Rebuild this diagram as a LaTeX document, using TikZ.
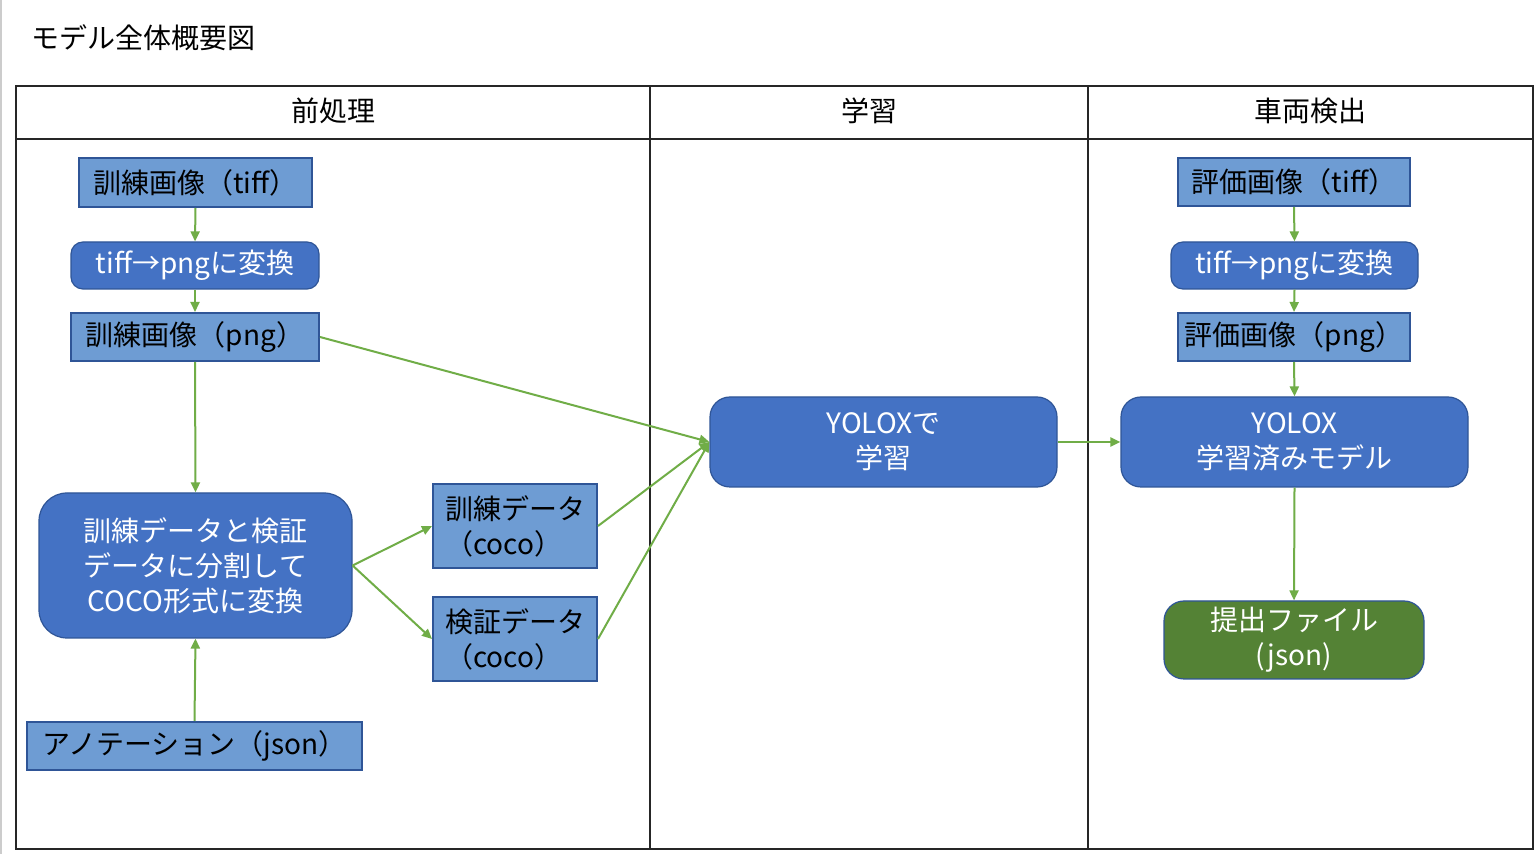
\documentclass[tikz,border=0pt]{standalone}
\usepackage{fontspec}
\setmainfont{Noto Sans CJK JP}
\usetikzlibrary{arrows.meta}
\definecolor{lightfill}{HTML}{6E9CD3}
\definecolor{darkfill}{HTML}{4472C4}
\definecolor{boxborder}{HTML}{2F5597}
\definecolor{greenfill}{HTML}{548235}
\definecolor{arrowgreen}{HTML}{70AD47}
\definecolor{tableline}{HTML}{262626}
\tikzset{
  lbox/.style={draw=boxborder, line width=1pt, fill=lightfill, inner sep=0pt, font=\fontsize{14}{17.5}\selectfont, text=black},
  dbox/.style={draw=boxborder, line width=0.6pt, fill=darkfill, rounded corners=6pt, inner sep=0pt, font=\fontsize{14}{17.5}\selectfont, text=white, align=center},
  gbox/.style={dbox, fill=greenfill},
  conn/.style={draw=arrowgreen, line width=1pt, -{Triangle[length=5pt, width=4.5pt]}},
  hdr/.style={font=\fontsize{14}{17}\selectfont, text=black},
}
\begin{document}
\begin{tikzpicture}[x=0.5pt, y=-0.5pt]
\useasboundingbox (0,0) rectangle (1536,854);
\fill[white] (0,0) rectangle (1536,854);
\draw[black!20, line width=1pt] (1,0) -- (1,854);
% title
\node[anchor=west, hdr, inner sep=0pt] (title) at (31,38) {モデル全体概要図};
% table
\draw[tableline, line width=1pt] (16,86) rectangle (1533,849);
\draw[tableline, line width=1pt] (16,139) -- (1533,139);
\draw[tableline, line width=1pt] (650,86) -- (650,849);
\draw[tableline, line width=1pt] (1088,86) -- (1088,849);
\node[hdr] (h1) at (333,111) {前処理};
\node[hdr] (h2) at (869,111) {学習};
\node[hdr] (h3) at (1310,111) {車両検出};
% left column
\node[lbox, minimum width=116.5pt, minimum height=24.5pt] (tiff1) at (195.5,182.5) {訓練画像（tiff）};
\node[dbox, minimum width=124pt, minimum height=23.5pt] (conv1) at (195,265.5) {tiff→pngに変換};
\node[lbox, minimum width=124pt, minimum height=24pt] (png1) at (195,337) {訓練画像（png）};
\node[dbox, rounded corners=14pt, minimum width=156.5pt, minimum height=72.5pt] (split) at (195.5,565.5) {訓練データと検証\\データに分割して\\COCO形式に変換};
\node[lbox, minimum width=82pt, minimum height=42pt, align=left] (trdata) at (515,526) {訓練データ\\（coco）};
\node[lbox, minimum width=82pt, minimum height=42pt, align=left] (vadata) at (515,639) {検証データ\\（coco）};
\node[lbox, minimum width=167.5pt, minimum height=24pt] (anno) at (194.5,746) {アノテーション（json）};
% middle
\node[dbox, rounded corners=10pt, minimum width=173.5pt, minimum height=45pt] (yolo) at (883.5,442) {YOLOXで\\学習};
% right column
\node[lbox, minimum width=116pt, minimum height=24pt] (tiff2) at (1294,182) {評価画像（tiff）};
\node[dbox, minimum width=123.5pt, minimum height=23.5pt] (conv2) at (1294.5,265.5) {tiff→pngに変換};
\node[lbox, minimum width=116pt, minimum height=24pt] (png2) at (1294,337) {評価画像（png）};
\node[dbox, rounded corners=10pt, minimum width=173.5pt, minimum height=45pt] (model) at (1294.5,442) {YOLOX\\学習済みモデル};
\node[gbox, rounded corners=10pt, minimum width=130pt, minimum height=39pt] (submit) at (1294,640) {提出ファイル\\(json)};
% connectors
\draw[conn] (tiff1.south) -- (conv1.north);
\draw[conn] (conv1.south) -- (png1.north);
\draw[conn] (png1.south) -- (split.north);
\draw[conn] (anno.north) -- (split.south);
\draw[conn] (split.east) -- (trdata.west);
\draw[conn] (split.east) -- (vadata.west);
\draw[conn] (png1.east) -- (yolo.west);
\draw[conn] (trdata.east) -- (yolo.west);
\draw[conn] (vadata.east) -- (yolo.west);
\draw[conn] (yolo.east) -- (model.west);
\draw[conn] (tiff2.south) -- (conv2.north);
\draw[conn] (conv2.south) -- (png2.north);
\draw[conn] (png2.south) -- (model.north);
\draw[conn] (model.south) -- (submit.north);
\end{tikzpicture}
\end{document}
